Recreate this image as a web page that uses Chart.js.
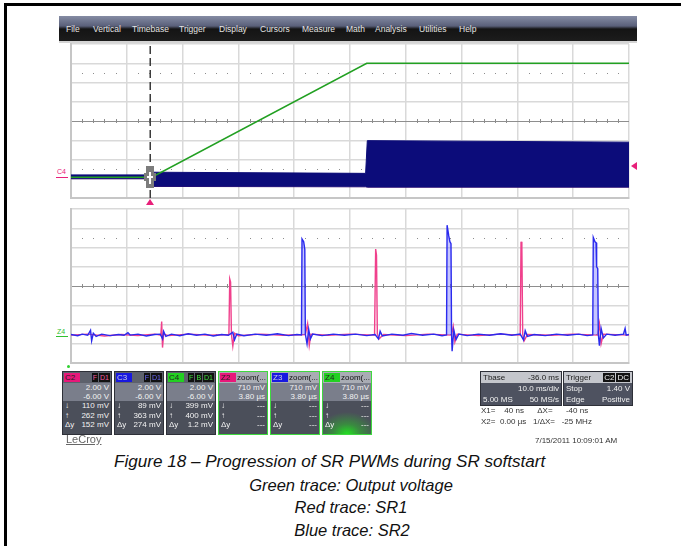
<!DOCTYPE html>
<html>
<head>
<meta charset="utf-8">
<script src="https://cdn.jsdelivr.net/npm/chart.js@4.4.0/dist/chart.umd.min.js"></script>
<style>
body{margin:0;width:681px;height:546px;background:#fff;position:relative;overflow:hidden;font-family:"Liberation Sans",Arial,sans-serif;}
.a{position:absolute}
#menu{left:59px;top:16px;width:578px;height:25px;background:linear-gradient(#858ca4 0%,#5a607a 40%,#141414 52%,#1c1c1c 100%);}
#menu span{position:absolute;top:8px;font-size:8.5px;color:#e4e4e4;line-height:10px}
canvas{position:absolute}
.box{position:absolute;top:371px;width:48px;height:62px;background:#4b4f5a;border:1px solid #2e3038;font-size:8px;color:#f2f2f2;overflow:hidden}
.box.z{border:1px solid #3fd83f}
.hd{height:11px;background:#5d616c;position:relative}
.tag{position:absolute;left:1px;top:1px;height:9px;width:16px;font-size:8px;line-height:9px;color:#222;text-indent:1px}
.fl{position:absolute;right:1px;top:1px;height:9px;line-height:9px;font-size:7px}
.fl b{display:inline-block;background:#111;padding:0 1px;margin-left:1px;font-weight:normal}
.zt{position:absolute;left:18px;top:0;line-height:11px;color:#111;font-size:8px}
.v{height:9px;line-height:9px;text-align:right;padding-right:2px;background:#7a7e8b}
.m{height:9.5px;line-height:9.5px;position:relative;padding-left:2px}
.m span{position:absolute;right:2px;top:0}
.info{position:absolute;top:371px;height:33px;background:#4e5260;border:1px solid #2e3038;font-size:8px;color:#f0f0f0}
.info div{height:11px;line-height:11px;position:relative;padding-left:2px}
.info span{position:absolute;right:2px;top:0}
.cap{position:absolute;font-style:italic;font-size:16.5px;color:#111;white-space:nowrap;line-height:20px}
.cur{position:absolute;font-size:8px;color:#333;white-space:pre;line-height:10px}
</style>
</head>
<body>
<div class="a" style="left:4px;top:3px;width:3px;height:543px;background:#000"></div>
<div class="a" style="left:4px;top:3px;width:677px;height:3px;background:#000"></div>

<div id="menu" class="a">
  <span style="left:7px">File</span><span style="left:34px">Vertical</span><span style="left:73px">Timebase</span>
  <span style="left:120px">Trigger</span><span style="left:160px">Display</span><span style="left:201px">Cursors</span>
  <span style="left:243px">Measure</span><span style="left:287px">Math</span><span style="left:316px">Analysis</span>
  <span style="left:360px">Utilities</span><span style="left:400px">Help</span>
</div>
<div class="a" style="left:59px;top:41px;width:578px;height:2px;background:#d4d4d4"></div>

<canvas id="upper" width="562" height="158" style="left:69px;top:42px"></canvas>
<canvas id="lower" width="562" height="158" style="left:69px;top:207px"></canvas>

<!-- channel markers -->
<div class="a" style="left:57px;top:168px;font-size:7px;color:#e8207a">C4</div>
<div class="a" style="left:56px;top:177px;width:12px;height:1px;background:#e8207a"></div>
<div class="a" style="left:146px;top:199px;width:0;height:0;border-left:4px solid transparent;border-right:4px solid transparent;border-bottom:6px solid #e8207a"></div>
<div class="a" style="left:631px;top:162px;width:0;height:0;border-top:4px solid transparent;border-bottom:4px solid transparent;border-right:6px solid #e8207a"></div>
<div class="a" style="left:57px;top:328px;font-size:7px;color:#30c030">Z4</div>
<div class="a" style="left:56px;top:336px;width:12px;height:1px;background:#30c030"></div>
<div class="a" style="left:67px;top:365px;width:3px;height:3px;border-radius:2px;background:#30d030"></div>

<!-- descriptor boxes -->
<div class="box" style="left:62px">
  <div class="hd"><div class="tag" style="background:#e8187a">C2</div><div class="fl" style="color:#f05aa0"><b>F</b><b>D1</b></div></div>
  <div class="v">2.00 V</div><div class="v">-6.00 V</div>
  <div class="m">↓<span>110 mV</span></div><div class="m">↑<span>262 mV</span></div><div class="m">Δy<span>152 mV</span></div>
</div>
<div class="box" style="left:114px">
  <div class="hd"><div class="tag" style="background:#1818e0;color:#ccd">C3</div><div class="fl" style="color:#6a6aff"><b>F</b><b>D1</b></div></div>
  <div class="v">2.00 V</div><div class="v">-6.00 V</div>
  <div class="m">↓<span>89 mV</span></div><div class="m">↑<span>363 mV</span></div><div class="m">Δy<span>274 mV</span></div>
</div>
<div class="box" style="left:166px">
  <div class="hd"><div class="tag" style="background:#22d022">C4</div><div class="fl" style="color:#40e040"><b>F</b><b>B</b><b>D1</b></div></div>
  <div class="v">2.00 V</div><div class="v">-6.00 V</div>
  <div class="m">↓<span>399 mV</span></div><div class="m">↑<span>400 mV</span></div><div class="m">Δy<span>1.2 mV</span></div>
</div>
<div class="box z" style="left:218px">
  <div class="hd" style="background:#a9acb4"><div class="tag" style="background:#e8187a">Z2</div><div class="zt">zoom(...</div></div>
  <div class="v">710 mV</div><div class="v">3.80 µs</div>
  <div class="m">↓<span>---</span></div><div class="m">↑<span>---</span></div><div class="m">Δy<span>---</span></div>
</div>
<div class="box z" style="left:270px">
  <div class="hd" style="background:#a9acb4"><div class="tag" style="background:#1818e0;color:#ccd">Z3</div><div class="zt">zoom(...</div></div>
  <div class="v">710 mV</div><div class="v">3.80 µs</div>
  <div class="m">↓<span>---</span></div><div class="m">↑<span>---</span></div><div class="m">Δy<span>---</span></div>
</div>
<div class="box z" style="left:322px;background:radial-gradient(ellipse 30px 22px at 50% 100%,#22e022 0%,#3a8a40 45%,#4b4f5a 100%)">
  <div class="hd" style="background:#a9acb4"><div class="tag" style="background:#22d022">Z4</div><div class="zt">zoom(...</div></div>
  <div class="v">710 mV</div><div class="v">3.80 µs</div>
  <div class="m">↓<span>---</span></div><div class="m">↑<span>---</span></div><div class="m">Δy<span>---</span></div>
</div>

<div class="info" style="left:480px;width:80px">
  <div style="background:#c4c6cc;color:#222">Tbase<span>-36.0 ms</span></div>
  <div><span>10.0 ms/div</span></div>
  <div>5.00 MS<span>50 MS/s</span></div>
</div>
<div class="info" style="left:563px;width:68px">
  <div style="background:#c4c6cc;color:#222">Trigger<span><b style="background:#111;color:#eee;font-weight:normal;padding:0 1px">C2</b><b style="background:#111;color:#eee;font-weight:normal;padding:0 1px;margin-left:1px">DC</b></span></div>
  <div>Stop<span>1.40 V</span></div>
  <div>Edge<span>Positive</span></div>
</div>
<div class="cur" style="left:481px;top:406px">X1=    40 ns      ΔX=      -40 ns</div>
<div class="cur" style="left:481px;top:417px">X2=  0.00 µs   1/ΔX=   -25 MHz</div>
<div class="cur" style="left:535px;top:436px">7/15/2011 10:09:01 AM</div>
<div class="a" style="left:66px;top:433px;font-size:11px;color:#666;text-decoration:underline">LeCroy</div>

<div class="cap" style="left:114px;top:452px;font-size:17.1px">Figure 18 – Progression of SR PWMs during SR softstart</div>
<div class="cap" style="left:0;width:702px;text-align:center;top:475px">Green trace: Output voltage</div>
<div class="cap" style="left:0;width:702px;text-align:center;top:497px">Red trace: SR1</div>
<div class="cap" style="left:0;width:704px;text-align:center;top:520px">Blue trace: SR2</div>

<script>
// grid: 10 x-divisions, 8 y-divisions (values in divisions)
const xDivs = [0, 10];
const yDivs = [-4, 4];

// upper pane: C4 output voltage ramp + compressed SR2 switching band
const rampTrace = [[0, -2.92], [1.45, -2.92], [5.3, 3.0], [10, 3.0]];
const bandX = [0, 1.42, 1.45, 5.28, 5.31, 10];
const bandTop = [-2.80, -2.80, -2.66, -2.72, -1.02, -1.10];
const bandBottom = [-3.00, -3.00, -3.40, -3.42, -3.44, -3.44];
const triggerX = 1.42;
const cursorPoint = [1.42, -2.92];

// lower pane: zoomed SR1 (red) and SR2 (blue) gate drive
const sr1Trace = [[0,-2.55],[0.3,-2.5],[0.6,-2.6],[0.9,-2.52],[1.2,-2.57],[1.5,-2.5],[1.61,-2.55],[1.625,-1.85],[1.64,-3.2],[1.66,-2.5],
  [1.75,-2.58],[2.1,-2.5],[2.5,-2.56],[2.83,-2.52],[2.845,0.36],[2.86,0.2],[2.875,-2.5],[2.9,-3.12],[2.93,-2.45],[3.0,-2.58],
  [3.4,-2.5],[3.8,-2.56],[4.2,-2.52],[4.24,-1.96],[4.27,-3.08],[4.3,-2.5],[4.6,-2.56],[5.0,-2.5],[5.44,-2.55],[5.46,1.92],
  [5.475,1.6],[5.49,-2.5],[5.52,-2.75],[5.6,-2.52],[6.0,-2.58],[6.4,-2.5],[6.82,-2.55],[6.85,-2.1],[6.88,-2.9],[6.92,-2.5],
  [7.3,-2.58],[7.7,-2.5],[8.05,-2.55],[8.065,2.3],[8.08,2.0],[8.095,-2.5],[8.12,-2.85],[8.18,-2.52],[8.6,-2.56],[9.0,-2.5],
  [9.44,-2.55],[9.47,-1.96],[9.5,-3.0],[9.54,-2.5],[10,-2.55]];
const sr2Trace = [[0,-2.52],[0.12,-2.58],[0.2,-2.5],[0.3,-2.56],[0.35,-2.3],[0.37,-2.85],[0.4,-2.45],[0.45,-2.62],[0.55,-2.5],[0.7,-2.58],
  [0.85,-2.52],[0.95,-2.56],[1.02,-2.42],[1.06,-2.55],[1.2,-2.5],[1.35,-2.6],[1.5,-2.52],[1.6,-2.5],[1.64,-2.75],[1.66,-2.35],
  [1.7,-2.62],[1.8,-2.5],[1.95,-2.58],[2.1,-2.48],[2.25,-2.56],[2.4,-2.5],[2.55,-2.6],[2.7,-2.52],[2.82,-2.56],[2.9,-2.4],
  [2.93,-2.8],[2.97,-2.5],[3.1,-2.58],[3.3,-2.5],[3.5,-2.56],[3.7,-2.48],[3.9,-2.58],[4.05,-2.52],[4.13,-2.54],[4.14,2.44],
  [4.17,2.3],[4.19,1.9],[4.2,-2.5],[4.23,-3.0],[4.26,-2.25],[4.29,-2.75],[4.33,-2.5],[4.5,-2.58],[4.7,-2.5],[4.9,-2.56],
  [5.1,-2.5],[5.3,-2.58],[5.45,-2.52],[5.51,-2.75],[5.54,-2.35],[5.58,-2.6],[5.75,-2.5],[5.95,-2.56],[6.1,-2.46],[6.3,-2.56],
  [6.5,-2.5],[6.65,-2.58],[6.73,-2.54],[6.74,3.16],[6.77,2.6],[6.79,2.3],[6.81,2.2],[6.82,-2.5],[6.83,-3.39],[6.86,-2.3],
  [6.9,-2.78],[6.95,-2.5],[7.1,-2.58],[7.3,-2.5],[7.5,-2.56],[7.7,-2.48],[7.9,-2.56],[8.05,-2.5],[8.11,-2.8],[8.14,-2.32],
  [8.18,-2.62],[8.3,-2.52],[8.5,-2.58],[8.7,-2.5],[8.9,-2.56],[9.1,-2.5],[9.25,-2.58],[9.35,-2.54],[9.36,2.52],[9.39,2.3],
  [9.41,2.25],[9.42,1.0],[9.44,0.9],[9.45,-2.5],[9.47,-3.1],[9.5,-2.2],[9.54,-2.7],[9.6,-2.5],[9.75,-2.56],[9.9,-2.5],
  [9.93,-2.2],[9.95,-2.55],[10,-2.52]];
const sr2Baseline = -2.54;

const pts = arr => arr.map(p => ({x: p[0], y: p[1]}));

// scope graticule: dotted rows at +-2.5 div and minor ticks on the centre line
const graticule = {
  id: 'graticule',
  beforeDatasetsDraw(chart) {
    const {ctx, scales: {x, y}} = chart;
    ctx.save();
    ctx.fillStyle = '#8c8c8c';
    for (let i = 1; i < 50; i++) {
      if (i % 5 === 0) continue;
      const px = Math.round(x.getPixelForValue(i / 5));
      [2.5, -2.5].forEach(v => ctx.fillRect(px, Math.round(y.getPixelForValue(v)), 1, 1));
      ctx.fillRect(px, Math.round(y.getPixelForValue(0)) - 2, 1, 4);
    }
    ctx.restore();
  }
};

const cursorMark = {
  id: 'cursorMark',
  afterDatasetsDraw(chart) {
    if (chart.canvas.id !== 'upper') return;
    const {ctx, scales: {x, y}} = chart;
    const cx = Math.round(x.getPixelForValue(cursorPoint[0]));
    const cy = Math.round(y.getPixelForValue(cursorPoint[1]));
    ctx.save();
    ctx.fillStyle = '#7c7c7c';
    ctx.fillRect(cx - 4, cy - 11, 8, 22);
    ctx.fillRect(cx - 6, cy - 4, 12, 8);
    ctx.fillStyle = '#fff';
    ctx.fillRect(cx - 3, cy - 1, 6, 2);
    ctx.fillRect(cx - 1, cy - 5, 2, 12);
    ctx.restore();
  }
};

function scopeOptions() {
  return {
    responsive: false, animation: false, devicePixelRatio: 1,
    layout: {padding: 2},
    plugins: {legend: {display: false}, tooltip: {enabled: false}},
    elements: {point: {radius: 0}, line: {tension: 0}},
    scales: {
      x: {type: 'linear', min: xDivs[0], max: xDivs[1],
          ticks: {display: false, stepSize: 1},
          grid: {color: '#d9d9d9', lineWidth: 1.5, drawTicks: false},
          border: {color: '#c6c6c6', width: 2}},
      y: {type: 'linear', min: yDivs[0], max: yDivs[1],
          ticks: {display: false, stepSize: 1},
          grid: {color: c => c.tick.value === 0 ? '#8e8e8e' : '#d9d9d9', lineWidth: c => c.tick.value === 0 ? 1 : 1.5, drawTicks: false},
          border: {color: '#c6c6c6', width: 2}}
    }
  };
}

new Chart(document.getElementById('upper'), {
  type: 'line',
  data: {datasets: [
    {data: pts(rampTrace), borderColor: '#22a022', borderWidth: 1.6, fill: false},
    {data: [{x: triggerX, y: yDivs[0]}, {x: triggerX, y: yDivs[1]}], borderColor: '#3a3a3a', borderWidth: 1.5, borderDash: [8, 4], fill: false},
    {data: bandX.map((v, i) => ({x: v, y: bandTop[i]})), borderColor: '#0c0c78', borderWidth: 1, backgroundColor: '#0c0c7a', fill: '+1'},
    {data: bandX.map((v, i) => ({x: v, y: bandBottom[i]})), borderColor: '#3a1070', borderWidth: 1, fill: false}
  ]},
  options: scopeOptions(),
  plugins: [graticule, cursorMark]
});

new Chart(document.getElementById('lower'), {
  type: 'line',
  data: {datasets: [
    {data: pts(sr2Trace), borderColor: '#2a2aee', borderWidth: 1.4,
     fill: {target: {value: sr2Baseline}, above: 'rgba(90,90,255,0.35)', below: 'rgba(0,0,0,0)'}},
    {data: pts(sr1Trace), borderColor: '#f0408c', borderWidth: 1.4, fill: false}
  ]},
  options: scopeOptions(),
  plugins: [graticule]
});
</script>
</body>
</html>
